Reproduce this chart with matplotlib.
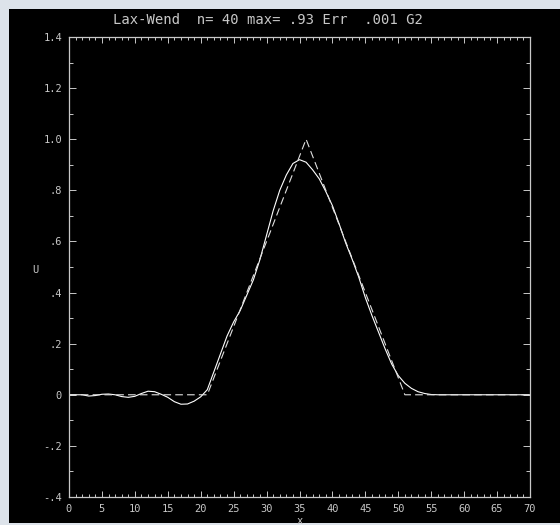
#!/usr/bin/env python3

import numpy
from matplotlib import pyplot
from matplotlib.patches import Rectangle
from matplotlib.ticker import MultipleLocator, FixedLocator

# numerical solution (Lax-Wendroff), one value per grid point x = 0..70
x_grid = list(range(0, 71))
u_num = [0.0, 0.0, 0.0, -0.005, -0.003, 0.002, 0.003, 0.0, -0.007, -0.01,
         -0.006, 0.005, 0.014, 0.012, 0.002, -0.01, -0.027, -0.037, -0.036, -0.025,
         -0.008, 0.02, 0.09, 0.16, 0.23, 0.285, 0.33, 0.39, 0.45, 0.53,
         0.625, 0.72, 0.80, 0.86, 0.905, 0.92, 0.91, 0.88, 0.845, 0.795,
         0.74, 0.67, 0.595, 0.53, 0.46, 0.38, 0.31, 0.245, 0.18, 0.12,
         0.075, 0.045, 0.025, 0.012, 0.005, 0.001] + [0.0] * 15

# exact solution: triangle pulse
x_exact = [0, 21, 36, 51, 70]
u_exact = [0.0, 0.0, 1.0, 0.0, 0.0]

title = "Lax-Wend  n= 40 max= .93 Err  .001 G2"
yticks = [-0.4, -0.2, 0.0, 0.2, 0.4, 0.6, 0.8, 1.0, 1.2, 1.4]
ytick_labels = ["-.4", "-.2", "0", ".2", ".4", ".6", ".8", "1.0", "1.2", "1.4"]
xticks = list(range(0, 71, 5))

fg = "#c8c8c8"
mono = "DejaVu Sans Mono"
pyplot.rcParams["lines.scale_dashes"] = False

fig = pyplot.figure(figsize=(5.6, 5.25), dpi=100, facecolor="#dde3ea")
# black plotting area (light border on top/left/bottom), drawn below the axes
fig.patches.append(Rectangle((9 / 560, 2 / 525), 551 / 560, 514 / 525,
                             transform=fig.transFigure, facecolor="black",
                             edgecolor="none", zorder=-5))

ax = fig.add_axes([69 / 560, 28 / 525, 461 / 560, 460 / 525])
ax.set_facecolor("black")

ax.plot(x_grid, u_num, color="white", lw=0.8)
ax.plot(x_exact, u_exact, color="#e0e0e0", lw=0.8, dashes=(5.5, 3.0))

ax.set_xlim(0, 70)
ax.set_ylim(-0.4, 1.4)

for s in ax.spines.values():
    s.set_color(fg)
    s.set_linewidth(0.9)

ax.xaxis.set_major_locator(FixedLocator(xticks))
ax.xaxis.set_minor_locator(MultipleLocator(1))
ax.yaxis.set_major_locator(FixedLocator(yticks))
ax.yaxis.set_minor_locator(MultipleLocator(0.1))
ax.set_xticklabels([str(t) for t in xticks])
ax.set_yticklabels(ytick_labels)

ax.tick_params(axis="x", which="major", direction="in", top=True, length=4.3,
               width=0.7, color=fg, labelcolor=fg, labelsize=7.5, pad=5)
ax.tick_params(axis="x", which="minor", direction="in", top=True, length=2.2,
               width=0.7, color=fg)
ax.tick_params(axis="y", which="major", direction="in", right=True, length=5,
               width=0.7, color=fg, labelcolor=fg, labelsize=7.5, pad=5)
ax.tick_params(axis="y", which="minor", direction="in", right=True, length=2.9,
               width=0.7, color=fg)
for lab in ax.get_xticklabels() + ax.get_yticklabels():
    lab.set_family(mono)

fig.text(268 / 560, 1 - 20 / 525, title, color=fg, family=mono, fontsize=10,
         ha="center", va="center")
fig.text(35 / 560, 1 - 270 / 525, "U", color=fg, family=mono, fontsize=7.5,
         ha="center", va="center")
fig.text(300 / 560, 1 - 521 / 525, "x", color=fg, family=mono, fontsize=7.5,
         ha="center", va="center")

pyplot.savefig("out.png", dpi=100, facecolor=fig.get_facecolor())
